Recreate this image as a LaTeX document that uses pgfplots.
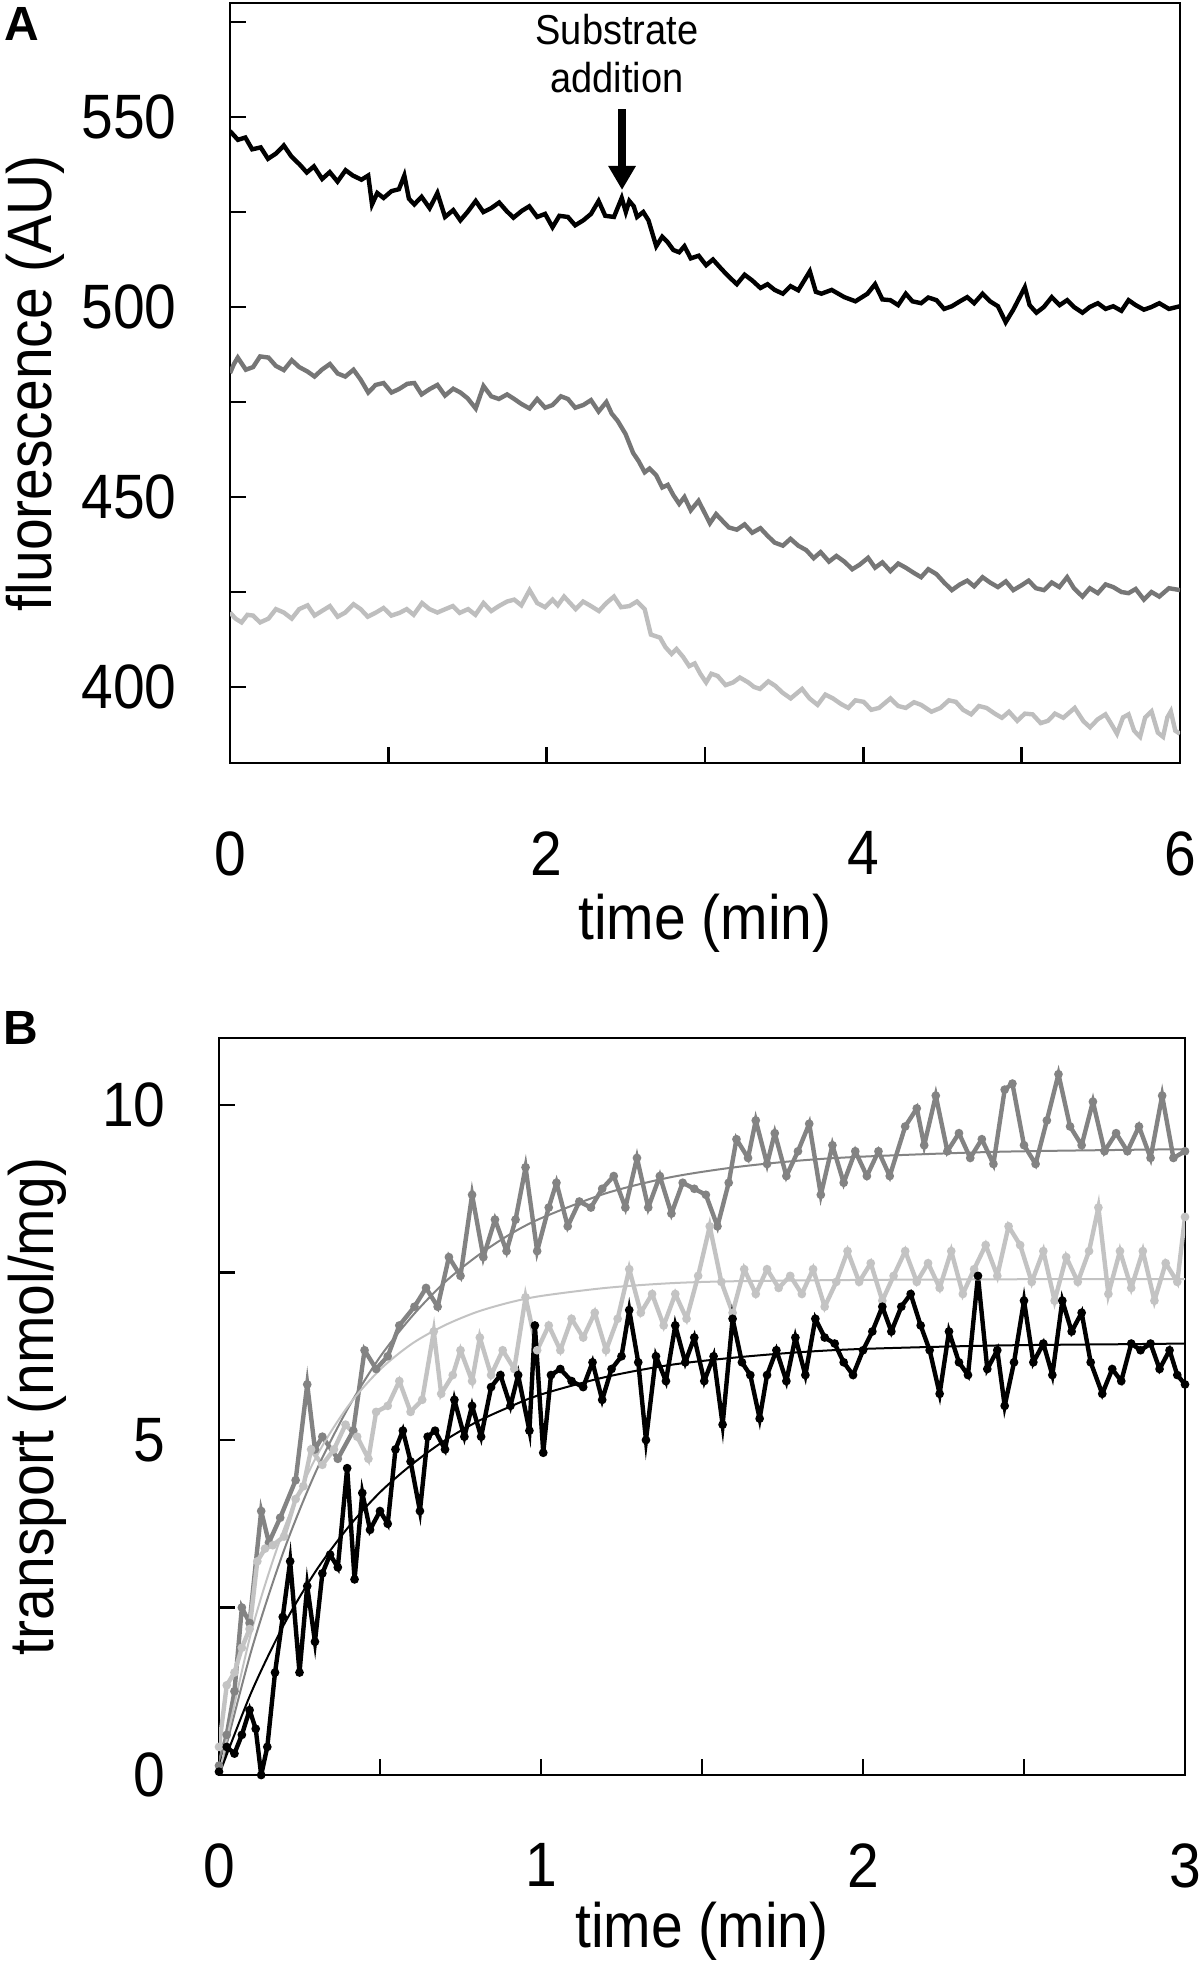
\documentclass[border=0pt]{standalone}
\usepackage{fontspec}
\setmainfont{Liberation Sans}
\usepackage{graphicx}
\usepackage{pgfplots}
\pgfplotsset{compat=1.18}
\usetikzlibrary{arrows.meta}
\definecolor{dgA}{HTML}{767676}
\definecolor{lgA}{HTML}{BEBEBE}
\definecolor{dgB}{HTML}{838383}
\definecolor{lgB}{HTML}{C3C3C3}
\newcommand{\bigf}{\fontsize{28.5bp}{34bp}\selectfont}
\newcommand{\sv}[1]{\scalebox{1}[1.1]{#1}}
\pgfplotsset{
  paneltxt/.style={
    scale only axis,
    tick align=inside,
    tick pos=left,
    major tick length=8bp,
    axis line style={line width=1.3bp},
    tick style={line width=1.3bp, black},
    every tick label/.append style={font=\bigf, inner sep=0pt},
    xticklabel style={anchor=north, yshift=-34bp},
    yticklabel style={anchor=east, xshift=-26.5bp},
    label style={font=\bigf, inner sep=0pt},
  }
}
\begin{document}
\begin{tikzpicture}[x=1bp,y=1bp]
\path[use as bounding box] (0,0) rectangle (601,-987.5);
\node[font=\bfseries\fontsize{24bp}{26bp}\selectfont, inner sep=0pt] at (11,-12) {A};
\node[font=\bfseries\fontsize{24bp}{26bp}\selectfont, inner sep=0pt] at (10.5,-514) {B};

\begin{axis}[paneltxt,
  at={(115bp,-381.5bp)}, anchor=south west,
  width=475bp, height=380bp,
  xmin=0, xmax=6, ymin=380, ymax=580,
  xtick={0,1,2,3,4,5,6}, xticklabels={\sv{0},,\sv{2},,\sv{4},,\sv{6}},
  ytick={400,425,450,475,500,525,550,575}, yticklabels={\sv{400},,\sv{450},,\sv{500},,\sv{550},},
  xlabel={\sv{time (min)}}, ylabel={\sv{fluorescence (AU)}},
  xlabel style={at={(axis description cs:0.5,-0.2105)}, anchor=center},
  ylabel style={at={(axis description cs:-0.2053,0.5)}, anchor=center},
]
\addplot[black, line width=2.2bp] coordinates {
(0,546.3) (0.05,544.0) (0.097,544.6) (0.14,541.5) (0.194,542.0) (0.24,539.0)
(0.291,540.4) (0.34,542.5) (0.388,539.6) (0.44,537.5) (0.485,535.4) (0.53,537.0)
(0.582,533.7) (0.63,535.5) (0.679,533.0) (0.73,536.0) (0.776,534.6) (0.83,533.5)
(0.873,534.6) (0.897,527.0) (0.93,530.0) (0.970,528.7) (1.02,530.5) (1.067,531.0)
(1.101,534.6) (1.13,528.5) (1.164,527.0) (1.21,529.0) (1.261,526.0) (1.310,530.0)
(1.358,523.7) (1.41,525.5) (1.455,522.8) (1.50,525.0) (1.552,527.9) (1.60,525.0)
(1.649,526.0) (1.70,527.5) (1.746,525.3) (1.79,523.5) (1.843,525.3) (1.89,526.5)
(1.940,523.7) (1.99,524.5) (2.037,521.0) (2.08,524.0) (2.134,523.7) (2.18,521.5)
(2.231,522.8) (2.28,524.5) (2.328,527.9) (2.37,524.0) (2.425,523.7) (2.474,528.7)
(2.50,525.0) (2.522,527.9) (2.55,526.5) (2.571,523.7) (2.61,525.0) (2.643,522.8)
(2.692,516.0) (2.73,518.5) (2.765,517.0) (2.80,515.0) (2.837,514.4) (2.87,516.0)
(2.910,512.8) (2.96,513.5) (3.007,511.0) (3.05,512.5) (3.104,510.0) (3.15,508.0)
(3.201,506.0) (3.25,508.5) (3.298,507.0) (3.35,505.0) (3.395,506.0) (3.44,504.5)
(3.492,503.5) (3.54,505.5) (3.589,504.4) (3.662,509.4) (3.70,504.0) (3.735,503.5)
(3.80,504.5) (3.880,502.6) (3.95,501.5) (4.026,503.5) (4.074,506.0) (4.12,502.0)
(4.171,501.8) (4.22,500.5) (4.268,503.5) (4.31,501.5) (4.365,501.0) (4.41,502.5)
(4.462,501.8) (4.51,499.5) (4.559,500.2) (4.61,501.5) (4.656,502.6) (4.70,501.0)
(4.753,503.5) (4.80,501.5) (4.850,500.2) (4.899,496.0) (4.947,499.3) (5.020,505.2)
(5.05,500.5) (5.093,498.5) (5.14,500.0) (5.190,502.6) (5.24,500.5) (5.287,501.8)
(5.33,500.0) (5.384,498.5) (5.43,500.0) (5.481,501.0) (5.53,499.5) (5.578,500.2)
(5.63,499.0) (5.675,501.8) (5.72,500.5) (5.772,499.3) (5.82,500.0) (5.869,501.0)
(5.93,499.5) (6.0,500.2)
};
\addplot[dgA, line width=2.2bp] coordinates {
(0,482.6) (0.025,485.0) (0.049,486.7) (0.10,483.5) (0.146,484.2) (0.19,487.0)
(0.243,486.7) (0.29,484.5) (0.340,483.4) (0.39,486.0) (0.437,484.2) (0.49,483.0)
(0.534,481.7) (0.58,483.5) (0.631,485.0) (0.68,482.5) (0.728,481.7) (0.78,483.5)
(0.825,480.9) (0.873,477.5) (0.92,479.5) (0.970,480.0) (1.02,477.5) (1.067,478.4)
(1.12,479.8) (1.164,480.0) (1.21,477.0) (1.261,478.4) (1.31,479.5) (1.358,476.7)
(1.41,478.5) (1.455,477.5) (1.50,476.0) (1.552,473.3) (1.601,479.2) (1.65,476.5)
(1.698,475.8) (1.75,477.0) (1.795,475.8) (1.84,474.5) (1.892,473.3) (1.940,475.8)
(1.99,473.5) (2.037,474.2) (2.09,476.5) (2.134,475.8) (2.18,473.5) (2.231,474.2)
(2.28,475.5) (2.328,472.5) (2.377,475.0) (2.41,472.0) (2.449,470.0) (2.498,466.6)
(2.546,461.6) (2.58,459.5) (2.619,456.5) (2.65,457.5) (2.692,455.7) (2.73,452.5)
(2.765,453.2) (2.80,450.5) (2.837,448.2) (2.87,450.0) (2.910,446.5) (2.959,449.0)
(3.031,443.1) (3.07,445.5) (3.104,444.0) (3.15,442.0) (3.201,441.4) (3.25,442.8)
(3.298,440.6) (3.35,441.8) (3.395,439.8) (3.44,438.0) (3.492,437.2) (3.54,439.0)
(3.589,437.2) (3.64,436.0) (3.686,433.9) (3.73,435.5) (3.783,433.0) (3.83,434.5)
(3.880,433.0) (3.93,431.0) (3.977,432.2) (4.03,434.0) (4.074,431.4) (4.12,432.8)
(4.171,430.5) (4.22,432.5) (4.268,431.4) (4.32,430.0) (4.365,428.9) (4.41,431.0)
(4.462,429.7) (4.51,427.5) (4.559,425.5) (4.61,427.0) (4.656,428.0) (4.70,426.5)
(4.753,428.9) (4.80,427.5) (4.850,426.3) (4.90,427.8) (4.947,425.5) (5.00,426.8)
(5.044,428.0) (5.09,426.0) (5.141,425.5) (5.19,427.5) (5.238,426.3) (5.287,428.9)
(5.33,426.0) (5.384,423.8) (5.43,426.0) (5.481,424.7) (5.53,427.0) (5.578,426.3)
(5.63,425.0) (5.675,424.7) (5.72,425.8) (5.772,423.0) (5.82,425.0) (5.869,423.8)
(5.93,426.0) (6.0,425.5)
};
\addplot[lgA, line width=2.2bp] coordinates {
(0,419.6) (0.035,418.0) (0.073,417.0) (0.11,419.0) (0.146,418.8) (0.19,417.0)
(0.243,418.0) (0.29,420.5) (0.340,419.6) (0.39,418.0) (0.437,420.5) (0.49,421.5)
(0.534,418.8) (0.58,420.0) (0.631,421.3) (0.68,418.5) (0.728,419.6) (0.78,421.8)
(0.825,420.5) (0.87,418.5) (0.922,419.6) (0.97,420.8) (1.019,418.8) (1.07,419.5)
(1.116,420.5) (1.16,419.0) (1.213,422.1) (1.26,420.5) (1.310,419.6) (1.36,420.5)
(1.407,421.3) (1.45,419.5) (1.504,420.5) (1.55,419.0) (1.601,422.1) (1.65,420.0)
(1.698,421.3) (1.75,422.5) (1.795,423.0) (1.84,421.5) (1.892,425.5) (1.940,422.1)
(1.99,421.0) (2.037,423.0) (2.07,421.5) (2.110,423.8) (2.183,420.5) (2.23,422.5)
(2.280,421.3) (2.33,420.0) (2.377,422.1) (2.425,423.8) (2.47,421.0) (2.522,421.3)
(2.57,422.5) (2.619,420.5) (2.658,413.8) (2.716,413.0) (2.75,410.5) (2.789,408.7)
(2.82,410.0) (2.862,407.9) (2.90,405.5) (2.935,406.2) (2.97,403.5) (3.007,401.2)
(3.04,403.5) (3.080,402.9) (3.13,400.5) (3.177,401.2) (3.22,402.5) (3.274,401.2)
(3.31,400.0) (3.347,399.5) (3.40,401.5) (3.444,400.3) (3.49,398.5) (3.541,397.0)
(3.613,399.5) (3.66,397.0) (3.711,395.3) (3.76,398.0) (3.808,397.0) (3.86,395.5)
(3.905,394.5) (3.95,396.5) (4.002,396.1) (4.05,394.0) (4.099,394.5) (4.171,397.0)
(4.22,395.0) (4.268,394.5) (4.32,396.0) (4.365,395.3) (4.43,393.5) (4.487,394.5)
(4.54,396.5) (4.584,396.1) (4.63,394.0) (4.681,392.8) (4.73,395.0) (4.778,394.5)
(4.83,393.0) (4.875,391.9) (4.92,393.5) (4.972,391.1) (5.02,393.0) (5.069,392.8)
(5.12,390.5) (5.166,391.1) (5.21,393.0) (5.263,391.9) (5.335,394.5) (5.39,391.0)
(5.432,389.4) (5.48,391.5) (5.529,392.8) (5.57,390.0) (5.602,387.7) (5.64,392.0)
(5.675,392.8) (5.71,388.5) (5.748,386.9) (5.78,392.0) (5.820,393.6) (5.86,388.0)
(5.893,386.9) (5.92,392.0) (5.942,393.6) (5.97,388.5) (6.0,387.7)
};
\draw[-{Triangle[width=13bp,length=12bp]}, line width=4bp] (axis cs:2.476,552) -- (axis cs:2.476,530.8);
\node[align=center, font=\fontsize{19bp}{24bp}\selectfont, inner sep=0pt] at (axis cs:2.444,566.6) {\sv{Substrate}\\\sv{addition}};
\end{axis}

\begin{axis}[paneltxt,
  at={(109.5bp,-887.5bp)}, anchor=south west,
  width=483bp, height=368.5bp,
  xmin=0, xmax=3, ymin=0, ymax=11,
  xtick={0,0.5,1,1.5,2,2.5,3}, xticklabels={\sv{0},,\sv{1},,\sv{2},,\sv{3}},
  ytick={0,2.5,5,7.5,10}, yticklabels={\sv{0},,\sv{5},,\sv{10}},
  xlabel={\sv{time (min)}}, ylabel={\sv{transport (nmol/mg)}},
  xlabel style={at={(axis description cs:0.5,-0.2117)}, anchor=center},
  ylabel style={at={(axis description cs:-0.1884,0.5)}, anchor=center},
]
\addplot[dgB, line width=2.2bp, mark=*, mark size=1bp] coordinates {
(0,0.14) (0.024,0.6) (0.048,1.25) (0.071,2.5) (0.095,2.27) (0.131,3.94)
(0.155,3.47) (0.190,3.84) (0.238,4.4) (0.274,5.83) (0.298,4.86) (0.321,5.05)
(0.369,4.72) (0.417,5.14) (0.452,6.34) (0.488,6.06) (0.524,6.25) (0.560,6.71)
(0.607,6.99) (0.643,7.27) (0.679,6.99) (0.714,7.73) (0.750,7.45) (0.786,8.66)
(0.821,7.73) (0.857,8.29) (0.893,7.82) (0.921,8.29) (0.952,9.07) (0.988,7.82)
(1.024,8.47) (1.048,8.84) (1.083,8.19) (1.119,8.56) (1.155,8.47) (1.190,8.75)
(1.226,8.94) (1.262,8.47) (1.298,9.21) (1.333,8.47) (1.369,8.94) (1.405,8.38)
(1.440,8.84) (1.476,8.75) (1.512,8.66) (1.548,8.19) (1.583,8.84) (1.607,9.49)
(1.643,9.21) (1.667,9.77) (1.702,9.12) (1.726,9.58) (1.762,8.94) (1.798,9.31)
(1.833,9.72) (1.869,8.66) (1.905,9.4) (1.940,8.84) (1.976,9.31) (2.012,8.94)
(2.048,9.31) (2.083,8.94) (2.131,9.68) (2.167,9.95) (2.190,9.4) (2.226,10.14)
(2.262,9.31) (2.298,9.58) (2.333,9.21) (2.369,9.49) (2.405,9.12) (2.440,10.23)
(2.464,10.32) (2.500,9.4) (2.536,9.12) (2.571,9.77) (2.607,10.46) (2.643,9.68)
(2.679,9.4) (2.714,10.05) (2.750,9.31) (2.786,9.58) (2.821,9.31) (2.857,9.68)
(2.893,9.21) (2.929,10.14) (2.964,9.21) (3.0,9.31)
};
\addplot[lgB, line width=2.2bp, mark=*, mark size=1bp] coordinates {
(0,0.42) (0.024,1.34) (0.048,1.53) (0.071,1.9) (0.095,2.18) (0.119,3.19)
(0.143,3.38) (0.167,3.43) (0.202,3.56) (0.238,4.12) (0.262,4.31) (0.286,4.86)
(0.321,4.63) (0.357,4.86) (0.393,5.23) (0.429,5.05) (0.464,4.72) (0.488,5.42)
(0.524,5.51) (0.560,5.88) (0.595,5.42) (0.631,5.6) (0.667,6.62) (0.690,5.69)
(0.726,5.97) (0.750,6.34) (0.786,5.88) (0.810,6.53) (0.845,5.97) (0.881,6.34)
(0.917,6.06) (0.952,7.13) (0.988,6.34) (1.024,6.71) (1.060,6.34) (1.095,6.81)
(1.131,6.53) (1.167,6.9) (1.202,6.34) (1.238,6.81) (1.274,7.55) (1.310,6.9)
(1.345,7.18) (1.381,6.71) (1.417,7.18) (1.452,6.81) (1.488,7.45) (1.524,8.19)
(1.560,7.36) (1.595,6.9) (1.631,7.55) (1.667,7.18) (1.702,7.55) (1.738,7.27)
(1.774,7.45) (1.810,7.18) (1.845,7.55) (1.881,6.99) (1.917,7.36) (1.952,7.82)
(1.988,7.36) (2.024,7.64) (2.060,7.08) (2.095,7.45) (2.131,7.82) (2.167,7.36)
(2.202,7.64) (2.238,7.27) (2.274,7.82) (2.310,7.18) (2.345,7.55) (2.381,7.91)
(2.417,7.45) (2.452,8.19) (2.488,7.91) (2.524,7.36) (2.560,7.82) (2.595,7.08)
(2.631,7.73) (2.667,7.36) (2.702,7.82) (2.731,8.47) (2.762,7.18) (2.798,7.82)
(2.833,7.27) (2.869,7.82) (2.905,7.08) (2.940,7.64) (2.976,7.36) (3.0,8.33)
};
\addplot[black, line width=2.2bp, mark=*, mark size=1bp] coordinates {
(0,0.05) (0.024,0.42) (0.048,0.32) (0.071,0.6) (0.095,0.97) (0.114,0.69)
(0.131,0.0) (0.150,0.42) (0.174,1.53) (0.198,2.36) (0.221,3.19) (0.250,1.53)
(0.274,2.82) (0.298,1.99) (0.321,3.01) (0.345,3.29) (0.369,3.1) (0.398,4.58)
(0.421,2.92) (0.445,4.21) (0.469,3.66) (0.500,3.94) (0.524,3.75) (0.548,4.86)
(0.571,5.14) (0.595,4.68) (0.624,3.94) (0.648,5.05) (0.671,5.14) (0.702,4.86)
(0.731,5.6) (0.762,5.05) (0.786,5.51) (0.814,5.05) (0.845,5.79) (0.874,5.97)
(0.905,5.51) (0.929,5.97) (0.964,5.14) (0.981,6.71) (1.007,4.81) (1.031,5.97)
(1.060,6.06) (1.095,5.88) (1.131,5.79) (1.160,6.16) (1.190,5.6) (1.219,6.06)
(1.250,6.25) (1.274,6.94) (1.302,6.16) (1.326,5.0) (1.357,6.25) (1.388,5.88)
(1.417,6.71) (1.448,6.16) (1.476,6.53) (1.507,5.88) (1.536,6.25) (1.564,5.23)
(1.595,6.81) (1.624,6.16) (1.650,5.97) (1.679,5.32) (1.702,5.97) (1.731,6.34)
(1.762,5.88) (1.790,6.53) (1.821,5.97) (1.852,6.81) (1.881,6.53) (1.912,6.44)
(1.940,6.16) (1.969,5.97) (2.000,6.34) (2.029,6.62) (2.060,6.99) (2.088,6.62)
(2.119,6.99) (2.148,7.18) (2.179,6.71) (2.207,6.34) (2.238,5.69) (2.267,6.62)
(2.298,6.16) (2.326,5.97) (2.357,7.45) (2.386,6.06) (2.417,6.34) (2.440,5.51)
(2.469,6.16) (2.500,7.08) (2.529,6.16) (2.560,6.44) (2.588,5.97) (2.619,7.08)
(2.648,6.62) (2.679,6.9) (2.707,6.16) (2.743,5.69) (2.774,6.06) (2.802,5.88)
(2.833,6.44) (2.862,6.34) (2.893,6.44) (2.921,6.06) (2.952,6.34) (2.976,5.97)
(3.0,5.83)
};
\addplot[dgB, line width=1bp, smooth] coordinates {
(0,0) (0.1,1.85) (0.2,3.33) (0.3,4.52) (0.4,5.47) (0.5,6.24) (0.6,6.85)
(0.7,7.35) (0.8,7.74) (0.9,8.06) (1.0,8.31) (1.2,8.68) (1.4,8.92) (1.6,9.07)
(1.8,9.17) (2.0,9.23) (2.4,9.30) (2.8,9.33) (3.0,9.34)
};
\addplot[lgB, line width=1bp, smooth] coordinates {
(0,0) (0.1,2.13) (0.2,3.65) (0.3,4.73) (0.4,5.50) (0.5,6.05) (0.6,6.44)
(0.7,6.71) (0.8,6.91) (0.9,7.05) (1.0,7.15) (1.2,7.27) (1.4,7.34) (1.6,7.37)
(2.0,7.39) (2.5,7.40) (3.0,7.40)
};
\addplot[black, line width=1bp, smooth] coordinates {
(0,0) (0.1,1.23) (0.2,2.23) (0.3,3.04) (0.4,3.69) (0.5,4.22) (0.6,4.64)
(0.7,4.99) (0.8,5.27) (0.9,5.49) (1.0,5.68) (1.2,5.94) (1.4,6.12) (1.6,6.23)
(1.8,6.31) (2.0,6.36) (2.4,6.41) (2.8,6.43) (3.0,6.44)
};
\end{axis}
\end{tikzpicture}
\end{document}
